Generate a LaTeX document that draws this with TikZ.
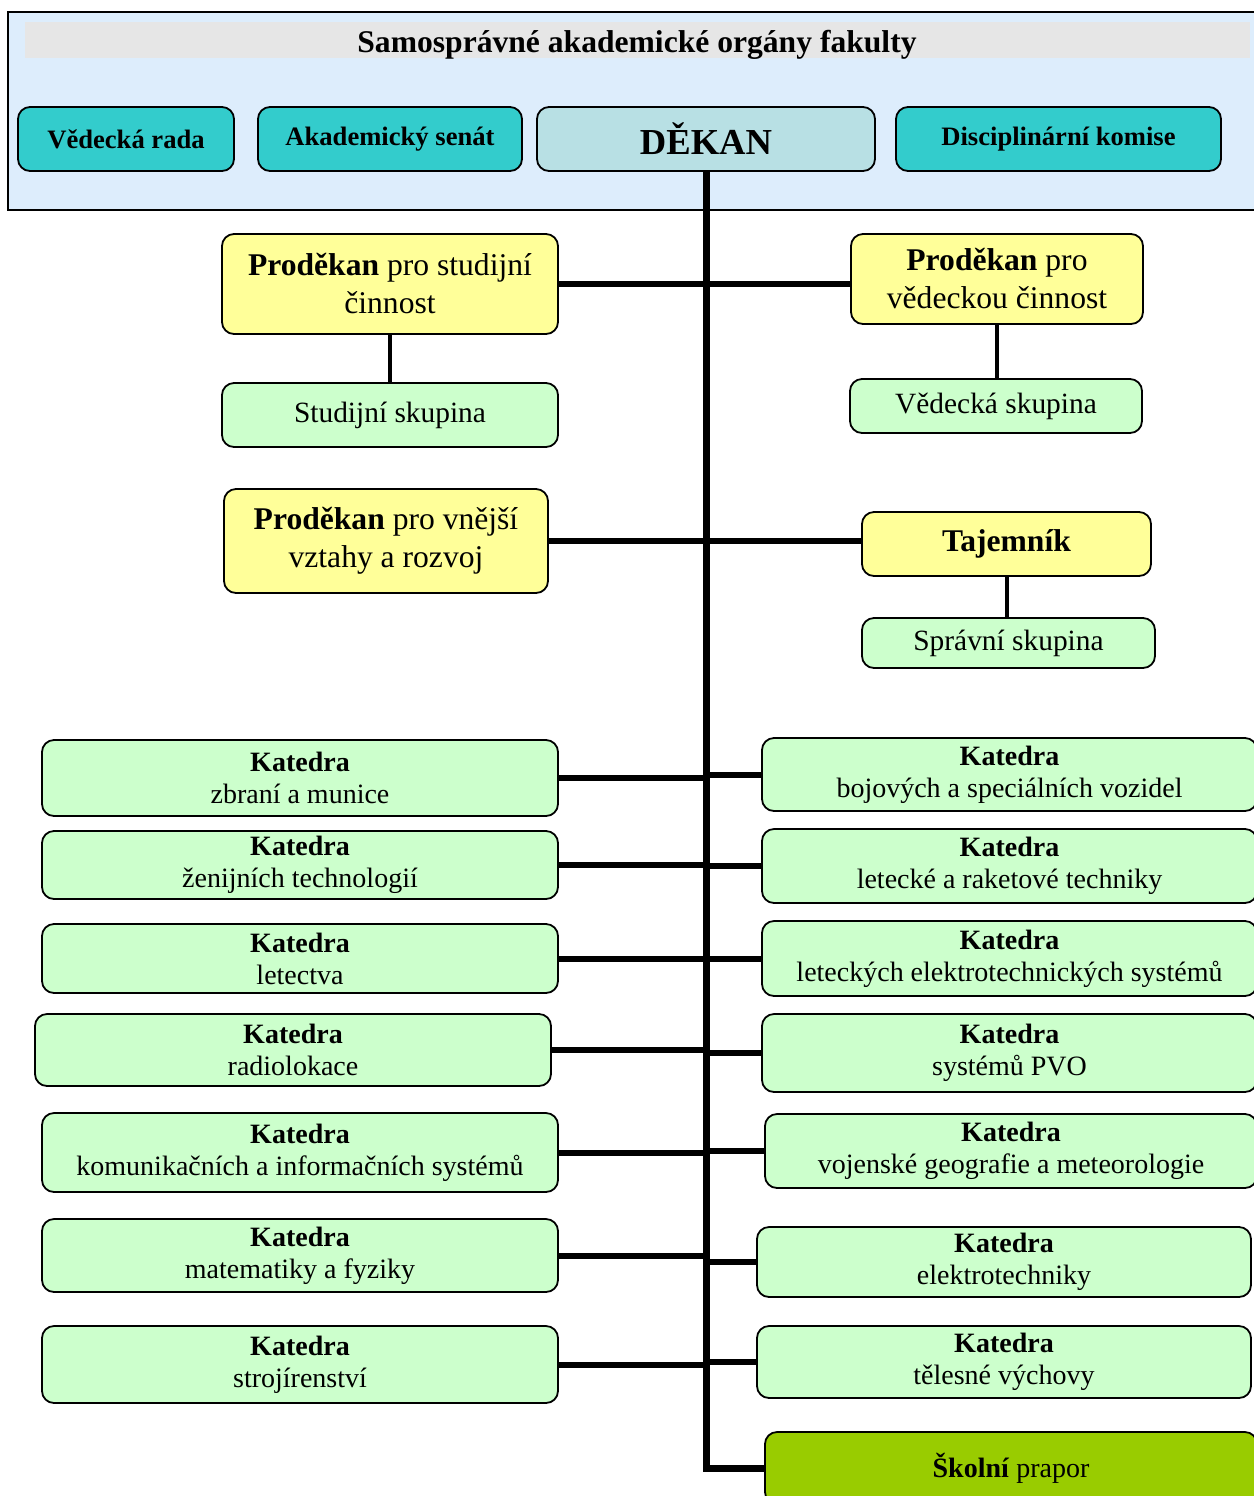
\documentclass[tikz,border=0pt]{standalone}
\usepackage{fontspec}
\setmainfont{Liberation Serif}
\definecolor{frameblue}{HTML}{DDEDFC}
\definecolor{bandgray}{HTML}{E6E6E6}
\definecolor{tealbox}{HTML}{33CCCC}
\definecolor{dekanblue}{HTML}{B8E0E4}
\definecolor{yel}{HTML}{FFFF99}
\definecolor{grn}{HTML}{CCFFCC}
\definecolor{prapor}{HTML}{99CC00}
\newcommand{\bx}[7]{%
  \pgfmathsetmacro{\bcx}{(#3+#5)/2}%
  \pgfmathsetmacro{\bcy}{(#4+#6)/2}%
  \pgfmathsetmacro{\bw}{(#5-#3)*0.5}%
  \pgfmathsetmacro{\bh}{(#6-#4)*0.5}%
  \node[#1, minimum width=\bw pt, minimum height=\bh pt] (#2) at (\bcx,\bcy) {#7};}
\begin{document}
\begin{tikzpicture}[x=0.5pt,y=-0.5pt,
  box/.style={draw=black, line width=0.9pt, rounded corners=6pt, inner sep=0pt, align=center},
  topbox/.style={box, fill=tealbox, font=\fontsize{13.3}{16}\selectfont\bfseries},
  dekanbox/.style={box, fill=dekanblue, font=\fontsize{18.3}{22}\selectfont\bfseries},
  yelbox/.style={box, fill=yel, font=\fontsize{15.8}{19}\selectfont},
  grnbox/.style={box, fill=grn, font=\fontsize{14}{16}\selectfont},
  skbox/.style={box, fill=grn, font=\fontsize{14.7}{17}\selectfont},
  prbox/.style={box, fill=prapor, font=\fontsize{14}{16}\selectfont},
  conn/.style={line width=3pt},
  subconn/.style={line width=2pt},
  trunk/.style={line width=3.5pt}]
\useasboundingbox (0,0) rectangle (1254,1496);
\clip (0,0) rectangle (1254,1496);
% frame
\bx{draw=black, line width=1pt, fill=frameblue, inner sep=0pt}{frame}{8}{12}{1270}{210}{}
\bx{fill=bandgray, inner sep=0pt}{band}{25}{22}{1250}{58}{}
\node[anchor=base, inner sep=0pt, font=\fontsize{15.8}{18}\selectfont\bfseries] (title) at (637,52) {Samosprávné akademické orgány fakulty};
% top row
\bx{topbox}{vr}{18}{107}{234}{171}{Vědecká rada}
\bx{topbox}{as}{258}{107}{522}{171}{Akademický senát}
\bx{dekanbox}{dekan}{537}{107}{875}{171}{DĚKAN}
\bx{topbox}{dk}{896}{107}{1221}{171}{Disciplinární komise}
% prodekans
\bx{yelbox}{ps}{222}{234}{558}{334}{\textbf{Proděkan} pro studijní\\činnost}
\bx{yelbox}{pv}{851}{234}{1143}{324}{\textbf{Proděkan} pro\\vědeckou činnost}
\bx{skbox}{ss}{222}{383}{558}{447}{Studijní skupina}
\bx{skbox}{vs}{850}{379}{1142}{433}{Vědecká skupina}
\bx{yelbox}{pvr}{224}{489}{548}{593}{\textbf{Proděkan} pro vnější\\vztahy a rozvoj}
\bx{yelbox}{taj}{862}{512}{1151}{576}{\textbf{Tajemník}}
\bx{skbox}{spr}{862}{618}{1155}{668}{Správní skupina}
% left katedry
\bx{grnbox}{l1}{42}{740}{558}{816}{\textbf{Katedra}\\zbraní a munice}
\bx{grnbox}{l2}{42}{831}{558}{899}{\textbf{Katedra}\\ženijních technologií}
\bx{grnbox}{l3}{42}{924}{558}{993}{\textbf{Katedra}\\letectva}
\bx{grnbox}{l4}{35}{1014}{551}{1086}{\textbf{Katedra}\\radiolokace}
\bx{grnbox}{l5}{42}{1113}{558}{1192}{\textbf{Katedra}\\komunikačních a informačních systémů}
\bx{grnbox}{l6}{42}{1219}{558}{1292}{\textbf{Katedra}\\matematiky a fyziky}
\bx{grnbox}{l7}{42}{1326}{558}{1403}{\textbf{Katedra}\\strojírenství}
% right katedry
\bx{grnbox}{r1}{762}{738}{1257}{811}{\textbf{Katedra}\\bojových a speciálních vozidel}
\bx{grnbox}{r2}{762}{829}{1257}{903}{\textbf{Katedra}\\letecké a raketové techniky}
\bx{grnbox}{r3}{762}{921}{1257}{996}{\textbf{Katedra}\\leteckých elektrotechnických systémů}
\bx{grnbox}{r4}{762}{1014}{1257}{1092}{\textbf{Katedra}\\systémů PVO}
\bx{grnbox}{r5}{765}{1114}{1257}{1188}{\textbf{Katedra}\\vojenské geografie a meteorologie}
\bx{grnbox}{r6}{757}{1227}{1251}{1297}{\textbf{Katedra}\\elektrotechniky}
\bx{grnbox}{r7}{757}{1326}{1251}{1398}{\textbf{Katedra}\\tělesné výchovy}
\bx{prbox}{sp}{765}{1432}{1257}{1504}{\textbf{Školní} prapor}
% trunk
\draw[trunk] (dekan.south) -- (dekan.south |- sp.west) -- (sp.west);
% connectors
\draw[conn] (ps.east) -- (ps.east -| pv.west);
\draw[conn] (pvr.east) -- (pvr.east -| taj.west);
\draw[subconn] (ps.south) -- (ss.north);
\draw[subconn] (pv.south) -- (pv.south |- vs.north);
\draw[subconn] (taj.south) -- (taj.south |- spr.north);
\foreach \n in {l1,l2,l3,l4,l5,l6,l7} {\draw[conn] (\n.east) -- (\n.east -| dekan.south);}
\foreach \n in {r1,r2,r3,r4,r5,r6,r7} {\draw[conn] (\n.west) -- (\n.west -| dekan.south);}
\end{tikzpicture}
\end{document}
